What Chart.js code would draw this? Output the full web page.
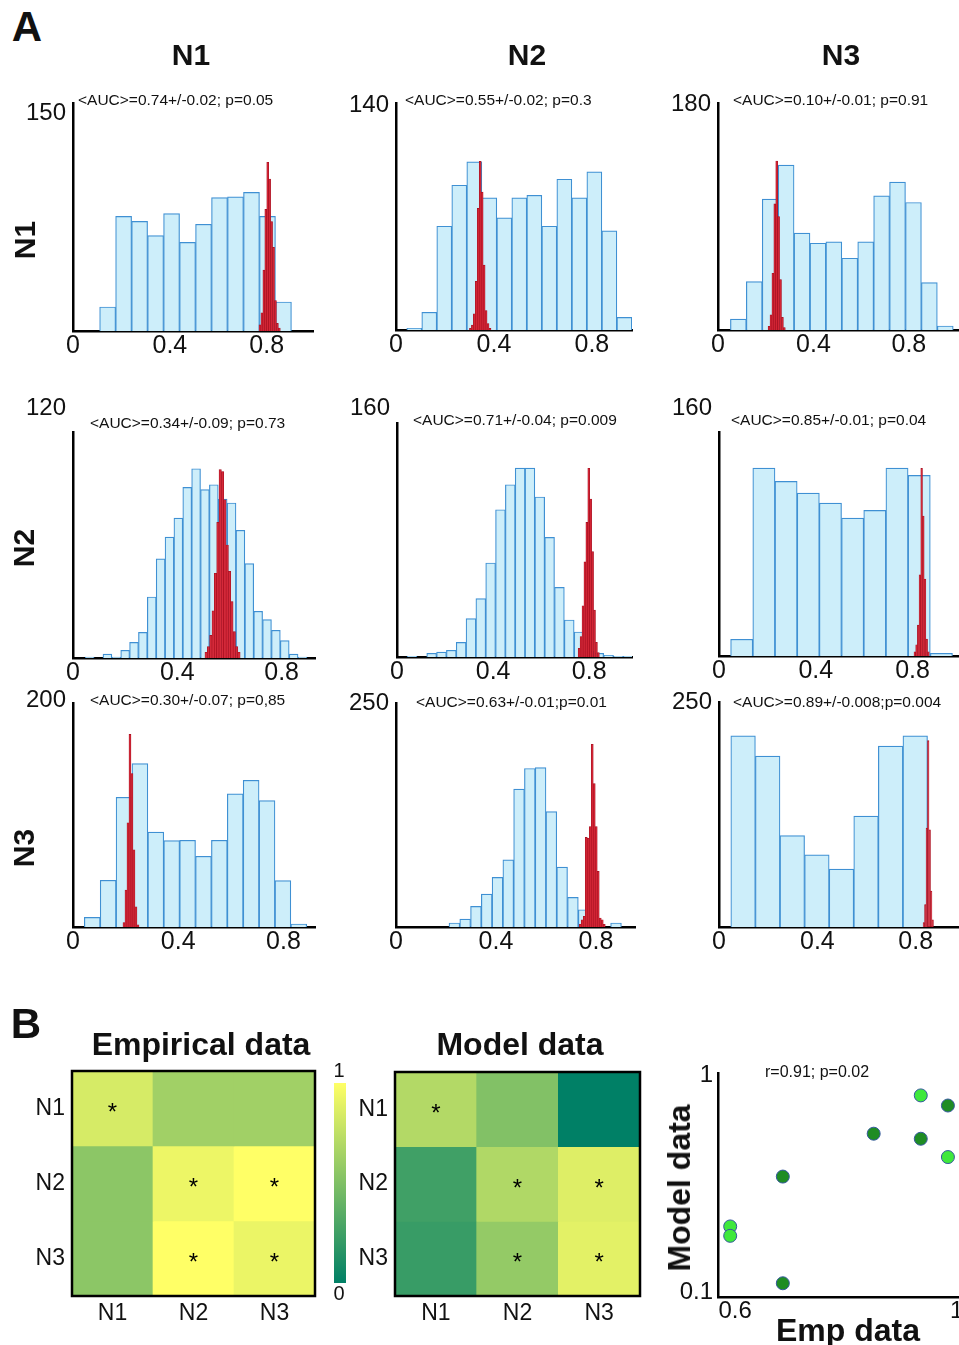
<!DOCTYPE html>
<html>
<head>
<meta charset="utf-8">
<script src="https://cdn.jsdelivr.net/npm/chart.js@4.4.0/dist/chart.umd.min.js"></script>
<style>
  body { margin: 0; width: 959px; height: 1345px; position: relative; overflow: hidden; background: #fff;
         font-family: "Liberation Sans", Arial, sans-serif; color: #111; }
  canvas { position: absolute; }
  .t { position: absolute; white-space: nowrap; line-height: 1; }
  .c { transform: translate(-50%, -50%); }
  .l { transform: translateY(-50%); }
  .r90 { transform: translate(-50%, -50%) rotate(-90deg); }
  .b { font-weight: bold; }
</style>
</head>
<body>
<script>
// ---- data (panels ordered row by row: N1/N1, N1/N2, N1/N3, N2/N1, ...) ----
const names = ['N1', 'N2', 'N3'];
const xTicks = [0, 0.4, 0.8];
const xTickLabels = ['0', '0.4', '0.8'];
const yMaxLabels = [150, 140, 180, 120, 160, 160, 200, 250, 250];
const aucTexts = [
  '<AUC>=0.74+/-0.02; p=0.05', '<AUC>=0.55+/-0.02; p=0.3', '<AUC>=0.10+/-0.01; p=0.91',
  '<AUC>=0.34+/-0.09; p=0.73', '<AUC>=0.71+/-0.04; p=0.009', '<AUC>=0.85+/-0.01; p=0.04',
  '<AUC>=0.30+/-0.07; p=0,85', '<AUC>=0.63+/-0.01;p=0.01', '<AUC>=0.89+/-0.008;p=0.004'
];

// shuffled (blue) histograms: first bin edge, bin width, counts
const blueStart = [0.110, 0.044, 0.052, 0.047, 0.042, 0.048, 0.043, 0.212, 0.048];
const blueWidth = [0.066, 0.0613, 0.0667, 0.034, 0.0409, 0.0917, 0.0604, 0.0431, 0.100];
const blueCounts = [
  [15.8, 75.4, 72.1, 62.7, 77.2, 58.3, 70.2, 87.7, 88.2, 91.2, 75.4, 19.1],
  [1, 10.9, 64.0, 89.3, 103.7, 81.5, 69.2, 81.5, 83.1, 64.0, 93.0, 81.5, 97.5, 61.2, 7.8],
  [8.7, 38.4, 103.8, 130.8, 76.8, 68.8, 69.9, 56.9, 69.9, 106.4, 117.3, 101.1, 37.6, 3.2],
  [0.5, 0, 2.1, 0.5, 4.1, 8.3, 13.6, 32.4, 52.6, 64.2, 74.3, 90.6, 100.5, 89.4, 92.0, 84.4, 82.3, 67.8, 50.1, 24.8, 20.4, 14.7, 9.2, 2.1, 0.5],
  [0.5, 0, 2.5, 3.4, 4.6, 10, 26.2, 39.9, 64.3, 100.7, 117.8, 129.2, 129.2, 109.4, 81.8, 47.6, 25.3, 17.1, 3.9, 2.5, 1.1, 0.5, 0.5],
  [11.9, 134.2, 124.7, 116.4, 109.2, 98.5, 104.0, 134.2, 129.0, 1.9],
  [8.6, 41.7, 115.8, 145.8, 84.8, 77.1, 77.4, 63.1, 77.4, 118.8, 131.0, 112.8, 41.4, 2.7],
  [4.5, 8.9, 23, 36.7, 55.3, 74.9, 153.9, 176.9, 178.0, 128.7, 66.8, 33.0, 19.3, 3, 0, 4.5],
  [212.3, 189.8, 101.5, 80.1, 64.3, 123.3, 200.9, 212.3]
];

// empirical (red) histograms
const redStart = [0.768, 0.300, 0.210, 0.506, 0.754, 0.806, 0.190, 0.733, 0.830];
const redWidth = [0.008, 0.008, 0.008, 0.009, 0.008, 0.007, 0.0076, 0.008, 0.006];
const redCounts = [
  [4, 12, 40, 80, 111, 100, 72, 55, 20, 5, 2],
  [1, 3, 10, 30, 75, 104, 85, 40, 12, 4, 1],
  [3, 12, 45, 100, 134, 90, 40, 10, 2],
  [3, 6, 12, 25, 45, 72, 100, 99, 84, 60, 46, 30, 14, 6, 3],
  [6, 14, 35, 65, 92, 129, 108, 72, 32, 10, 3],
  [3, 8, 22, 58, 134, 100, 55, 12, 3],
  [4, 33, 93, 172, 137, 69, 18, 2],
  [3, 8, 12, 100, 99, 112, 204, 160, 112, 62, 10, 8, 3],
  [5, 25, 110, 207, 108, 40, 8]
];

// panel B
const empAUC = [[0.84, 0.63, 0.63], [0.55, 0.93, 1.0], [0.55, 1.0, 0.92]];
const modAUC = [[0.70, 0.51, 0.0], [0.25, 0.69, 0.87], [0.22, 0.58, 0.89]];
const signif = [[1, 0, 0], [0, 1, 1], [0, 1, 1]];
const scatterLightX = [0.591, 0.591, 0.935, 0.984];
const scatterLightY = [0.373, 0.334, 0.917, 0.661];
const scatterDarkX = [0.686, 0.686, 0.850, 0.935, 0.984];
const scatterDarkY = [0.580, 0.137, 0.758, 0.737, 0.875];

// ---- layout of the 9 histogram axes (pixels) ----
const boxes = [
  { x0: 73, top: 103, xEnd: 313, base: 331, xMax: 0.991, lo: 10 },
  { x0: 396, top: 103, xEnd: 632, base: 330, xMax: 0.964, lo: 2 },
  { x0: 718, top: 103, xEnd: 959, base: 330, xMax: 1.010, lo: 1 },
  { x0: 73, top: 432, xEnd: 315, base: 658, xMax: 0.928, lo: -24 },
  { x0: 397, top: 423, xEnd: 632, base: 657, xMax: 0.978, lo: -15 },
  { x0: 719, top: 432, xEnd: 959, base: 656, xMax: 0.992, lo: -24 },
  { x0: 73, top: 703, xEnd: 315, base: 927, xMax: 0.920, lo: -3 },
  { x0: 396, top: 703, xEnd: 635, base: 927, xMax: 0.956, lo: 0 },
  { x0: 719, top: 702, xEnd: 959, base: 927, xMax: 0.976, lo: 0 }
];
const aucPos = [[78, 100], [405, 100], [733, 100], [90, 423], [413, 420], [731, 420], [90, 700], [416, 702], [733, 702]];

const FONT = '"Liberation Sans", Arial, sans-serif';

function addText(txt, x, y, size, cls) {
  const d = document.createElement('div');
  d.className = 't ' + cls;
  d.style.left = x + 'px';
  d.style.top = y + 'px';
  d.style.fontSize = size + 'px';
  d.textContent = txt;
  document.body.appendChild(d);
}

function addCanvas(left, top, w, h) {
  const cv = document.createElement('canvas');
  cv.width = w; cv.height = h;
  cv.style.left = left + 'px';
  cv.style.top = top + 'px';
  document.body.appendChild(cv);
  return cv;
}

function bins(start, width, counts) {
  return counts.map((c, k) => ({ x: start + width * (k + 0.5), y: c }));
}

function summer(v) {
  return 'rgb(' + Math.round(255 * v) + ',' + Math.round(128 + 127 * v) + ',102)';
}

// fixed axis sizes, no label overflow padding, so the plot box lands where we put it
const fixX = h => s => { s.height = h; s.paddingLeft = 0; s.paddingRight = 0; };
const fixY = w => s => { s.width = w; s.paddingTop = 0; s.paddingBottom = 0; };

// ---- A: histograms ----
boxes.forEach((p, i) => {
  const col = i % 3;
  const padTop = 40, padRight = col < 2 ? 12 : 0, yW = 60, xH = 40;
  const W = yW + (p.xEnd - p.x0) + padRight;
  const H = padTop + (p.base - p.top) + xH;
  const cv = addCanvas(p.x0 - yW, p.top - padTop, W, H);

  new Chart(cv, {
    type: 'bar',
    data: {
      datasets: [
        {
          data: bins(redStart[i], redWidth[i], redCounts[i]),
          xAxisID: 'xr',
          backgroundColor: 'rgba(214,38,54,0.95)',
          borderColor: '#a30f20',
          borderWidth: 0.6,
          borderSkipped: 'start'
        },
        {
          data: bins(blueStart[i], blueWidth[i], blueCounts[i]),
          xAxisID: 'x',
          backgroundColor: '#cdeefa',
          borderColor: '#3f90d3',
          borderWidth: 1.2,
          borderSkipped: 'start'
        }
      ]
    },
    options: {
      responsive: false,
      animation: false,
      events: [],
      layout: { autoPadding: false, padding: { top: padTop, right: padRight, left: 0, bottom: 0 } },
      plugins: { legend: { display: false }, tooltip: { enabled: false } },
      datasets: { bar: { grouped: false, categoryPercentage: 1, barPercentage: 1 } },
      scales: {
        x: {
          type: 'linear', offset: false, min: 0, max: p.xMax,
          grid: { display: false, drawTicks: false },
          border: { display: true, color: '#000', width: 2.5 },
          afterBuildTicks: s => { s.ticks = xTicks.map(v => ({ value: v })); },
          afterFit: fixX(xH),
          ticks: { font: { size: 25, family: FONT }, color: '#111', padding: 0, maxRotation: 0, autoSkip: false,
                   callback: (v, idx) => xTickLabels[idx] }
        },
        xr: { type: 'linear', display: false, offset: false, min: 0, max: p.xMax },
        y: {
          min: 0, max: yMaxLabels[i],
          grid: { display: false, drawTicks: false },
          border: { display: true, color: '#000', width: 2.5 },
          afterBuildTicks: s => { s.ticks = [{ value: yMaxLabels[i] }]; },
          afterFit: fixY(yW),
          ticks: { font: { size: 24, family: FONT }, color: '#111', padding: 7, labelOffset: p.lo,
                   callback: () => String(yMaxLabels[i]) }
        }
      }
    }
  });
  addText(aucTexts[i], aucPos[i][0], aucPos[i][1], 15.5, 'l');
});

// ---- B: heatmaps ----
const boxPlugin = {
  id: 'boxAndStars',
  afterDatasetsDraw(chart) {
    const { ctx, chartArea: a } = chart;
    ctx.save();
    ctx.fillStyle = '#000';
    ctx.font = '24px ' + FONT;
    ctx.textAlign = 'center';
    ctx.textBaseline = 'middle';
    chart.data.datasets.forEach((ds, r) => {
      chart.getDatasetMeta(r).data.forEach((bar, c) => {
        if (signif[r][c]) ctx.fillText('*', bar.x, (bar.y + bar.base) / 2 + 5);
      });
    });
    ctx.strokeStyle = '#000';
    ctx.lineWidth = 2.5;
    ctx.strokeRect(a.left, a.top, a.right - a.left, a.bottom - a.top);
    ctx.restore();
  }
};

function heatmap(vals, area) {
  const yW = 55, padTop = 25, padRight = 5, xH = 40;
  const cv = addCanvas(area.left - yW, area.top - padTop,
    yW + area.right - area.left + padRight, padTop + area.bottom - area.top + xH);
  new Chart(cv, {
    type: 'bar',
    data: {
      labels: names,
      datasets: vals.map((row, r) => ({
        data: row.map(() => [r, r + 1]),
        backgroundColor: row.map(summer),
        borderWidth: 0
      }))
    },
    options: {
      responsive: false,
      animation: false,
      events: [],
      layout: { autoPadding: false, padding: { top: padTop, right: padRight, left: 0, bottom: 0 } },
      plugins: { legend: { display: false }, tooltip: { enabled: false } },
      datasets: { bar: { grouped: false, categoryPercentage: 1, barPercentage: 1 } },
      scales: {
        x: {
          grid: { display: false, drawTicks: false },
          border: { display: false },
          afterFit: fixX(xH),
          ticks: { font: { size: 23, family: FONT }, color: '#111', padding: 4 }
        },
        y: {
          min: 0, max: 3, reverse: true,
          grid: { display: false, drawTicks: false },
          border: { display: false },
          afterBuildTicks: s => { s.ticks = [0.5, 1.5, 2.5].map(v => ({ value: v })); },
          afterFit: fixY(yW),
          ticks: { font: { size: 23, family: FONT }, color: '#111', padding: 7,
                   callback: (v, idx) => names[idx] }
        }
      }
    },
    plugins: [boxPlugin]
  });
}

heatmap(empAUC, { left: 72, right: 315, top: 1071, bottom: 1296 });
heatmap(modAUC, { left: 395, right: 640, top: 1072, bottom: 1296 });

// colorbar
const cb = document.createElement('div');
cb.style.cssText = 'position:absolute;left:334px;top:1083px;width:12px;height:200px;background:linear-gradient(to top,' +
  summer(0) + ',' + summer(0.5) + ',' + summer(1) + ');';
document.body.appendChild(cb);
addText('1', 339, 1070, 20, 'c');
addText('0', 339, 1293, 20, 'c');

// ---- B: scatter ----
{
  const yW = 50, padTop = 25, xH = 36;
  const area = { left: 718, right: 959, top: 1073, bottom: 1297 };
  const cv = addCanvas(area.left - yW, area.top - padTop, yW + area.right - area.left, padTop + area.bottom - area.top + xH);
  const pts = (xs, ys) => xs.map((x, k) => ({ x: x, y: ys[k] }));
  new Chart(cv, {
    type: 'scatter',
    data: {
      datasets: [
        { data: pts(scatterDarkX, scatterDarkY), backgroundColor: '#1f8c24', borderColor: '#35589e', borderWidth: 1, pointRadius: 6.5 },
        { data: pts(scatterLightX, scatterLightY), backgroundColor: '#3fe83c', borderColor: '#35589e', borderWidth: 1, pointRadius: 6.5 }
      ]
    },
    options: {
      responsive: false,
      animation: false,
      events: [],
      layout: { autoPadding: false, padding: { top: padTop, right: 0, left: 0, bottom: 0 } },
      plugins: { legend: { display: false }, tooltip: { enabled: false } },
      scales: {
        x: {
          type: 'linear', min: 0.569, max: 1.004,
          grid: { display: false, drawTicks: false },
          border: { display: true, color: '#000', width: 2.5 },
          afterBuildTicks: s => { s.ticks = [0.6, 1].map(v => ({ value: v })); },
          afterFit: fixX(xH),
          ticks: { font: { size: 24, family: FONT }, color: '#111', padding: 0, maxRotation: 0,
                   callback: (v, idx) => ['0.6', '1'][idx] }
        },
        y: {
          type: 'linear', min: 0.08, max: 1.01,
          grid: { display: false, drawTicks: false },
          border: { display: true, color: '#000', width: 2.5 },
          afterBuildTicks: s => { s.ticks = [0.1, 1].map(v => ({ value: v })); },
          afterFit: fixY(yW),
          ticks: { font: { size: 24, family: FONT }, color: '#111', padding: 5,
                   callback: (v, idx) => ['0.1', '1'][idx] }
        }
      }
    }
  });
}

// ---- titles and labels ----
addText('A', 27, 27, 42, 'c b');
addText('B', 26, 1024, 42, 'c b');
addText('N1', 191, 55, 30, 'c b');
addText('N2', 527, 55, 30, 'c b');
addText('N3', 841, 55, 30, 'c b');
addText('N1', 25, 240, 30, 'r90 b');
addText('N2', 24, 548, 30, 'r90 b');
addText('N3', 24, 848, 30, 'r90 b');
addText('Empirical data', 201, 1044, 32, 'c b');
addText('Model data', 520, 1044, 32, 'c b');
addText('r=0.91; p=0.02', 765, 1072, 16, 'l');
addText('Model data', 679, 1188, 32, 'r90 b');
addText('Emp data', 848, 1330, 32, 'c b');
</script>
</body>
</html>
